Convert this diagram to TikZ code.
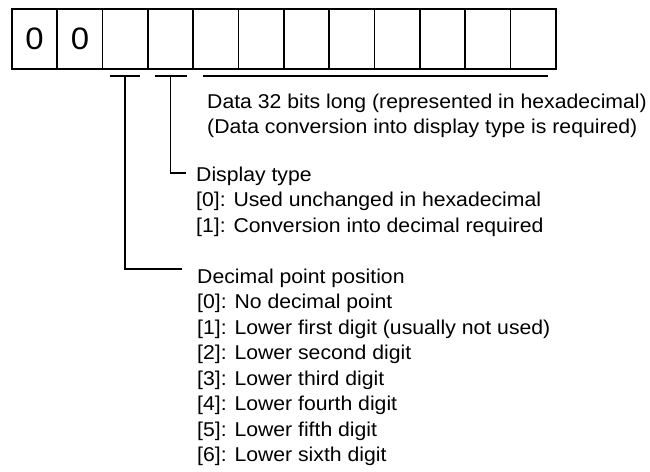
\documentclass[tikz,border=0pt]{standalone}
\usepackage{fontspec}
\setmainfont{Liberation Sans}[FakeStretch=1.06]
\begin{document}
\begin{tikzpicture}[x=1pt,y=-1pt,
  cell/.style={draw,line width=1.8pt,minimum width=45.33pt,minimum height=60pt,inner sep=0pt,anchor=north west},
  digit/.style={font=\fontsize{31}{31}\selectfont},
  lbl/.style={anchor=base west,inner sep=0pt,font=\fontsize{20}{20}\selectfont},
  ln/.style={line width=1.5pt}]
\useasboundingbox (0,0) rectangle (650,471);
% cells
\foreach \i in {1,...,12}{
  \node[cell] (b\i) at ({11+(\i-1)*45.33},8) {};
}
\node[digit] at (b1) {0};
\node[digit] at (b2) {0};
% underline coordinates
\coordinate (u3) at (b3.south |- 0,76);
\coordinate (u4) at (b4.south |- 0,76);
\draw[ln] ([xshift=-15pt]u3) -- ([xshift=15pt]u3);
\draw[ln] ([xshift=-16pt]u4) -- ([xshift=16pt]u4);
\coordinate (u5a) at (203,76);
\coordinate (u5b) at (548,76);
\draw[ln] (u5a) -- (u5b);
% texts
\node[lbl] (data1) at (207,108) {Data 32 bits long (represented in hexadecimal)};
\node[lbl] (data2) at (207,133.5) {(Data conversion into display type is required)};
\node[lbl] (dispT) at (196,181) {Display type};
\node[lbl] (disp0) at (196,206.5) {[0]: Used unchanged in hexadecimal};
\node[lbl] (disp1) at (196,232) {[1]: Conversion into decimal required};
\node[lbl] (decT) at (197,283) {Decimal point position};
\node[lbl] (dec0) at (197,308.5) {[0]: No decimal point};
\node[lbl] (dec1) at (197,334) {[1]: Lower first digit (usually not used)};
\node[lbl] (dec2) at (197,359.5) {[2]: Lower second digit};
\node[lbl] (dec3) at (197,385) {[3]: Lower third digit};
\node[lbl] (dec4) at (197,410.5) {[4]: Lower fourth digit};
\node[lbl] (dec5) at (197,436) {[5]: Lower fifth digit};
\node[lbl] (dec6) at (197,461.5) {[6]: Lower sixth digit};
% connectors
\coordinate (dispE) at (186,173);
\coordinate (decE) at (182,269);
\draw[ln] (u4) |- (dispE);
\draw[ln] (u3) |- (decE);
\end{tikzpicture}
\end{document}
